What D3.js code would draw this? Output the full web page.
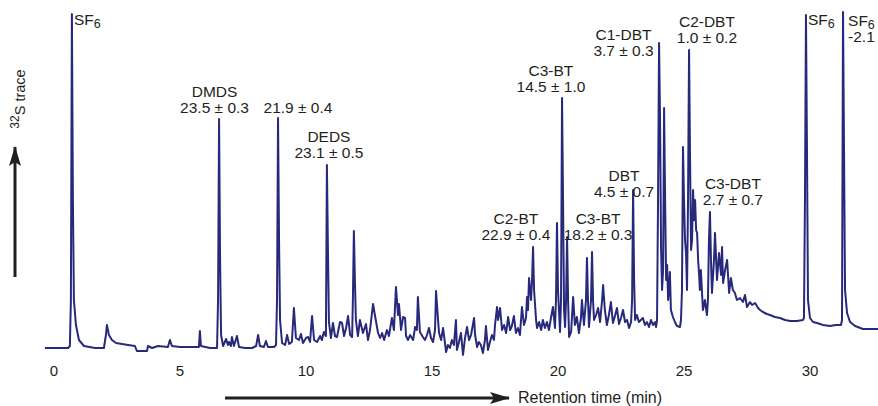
<!DOCTYPE html>
<html>
<head>
<meta charset="utf-8">
<script src="https://cdn.jsdelivr.net/npm/d3@7"></script>
<style>
  html, body { margin: 0; padding: 0; background: #fff; }
  svg { display: block; }
  text { font-family: "Liberation Sans", Arial, Helvetica, sans-serif; fill: #231f20; }
</style>
</head>
<body>
<svg id="chart" width="878" height="406"></svg>
<script>
// 32S trace of the GC-MC-ICPMS run: retention time (min) and signal (arbitrary units)
const retentionTime = [
  -0.34, 0.58, 0.65, 0.69, 0.73, 0.77, 0.81, 0.89, 1.01, 1.21, 1.65, 2.00, 2.08, 2.12, 2.20, 2.32, 2.48, 2.72, 2.96, 3.23,
  3.31, 3.71, 3.75, 3.91, 4.15, 4.54, 4.62, 4.70, 5.02, 5.42, 5.77, 5.81, 5.85, 6.21, 6.49, 6.53, 6.57, 6.61, 6.65, 6.73,
  6.85, 6.92, 6.96, 7.04, 7.08, 7.16, 7.28, 7.36, 7.60, 7.88, 8.04, 8.12, 8.19, 8.35, 8.43, 8.51, 8.75, 8.83, 8.87, 8.91,
  8.95, 8.99, 9.07, 9.19, 9.27, 9.35, 9.46, 9.54, 9.62, 9.74, 9.82, 9.90, 10.02, 10.10, 10.18, 10.26, 10.34, 10.46, 10.58, 10.65,
  10.73, 10.81, 10.85, 10.89, 10.93, 11.01, 11.09, 11.17, 11.25, 11.37, 11.45, 11.53, 11.61, 11.69, 11.77, 11.85, 11.88, 11.92, 11.96, 12.00,
  12.08, 12.16, 12.28, 12.40, 12.48, 12.56, 12.68, 12.76, 12.88, 12.96, 13.04, 13.12, 13.23, 13.31, 13.43, 13.51, 13.59, 13.67, 13.71, 13.79,
  13.87, 13.95, 13.99, 14.07, 14.15, 14.27, 14.35, 14.42, 14.46, 14.54, 14.66, 14.74, 14.82, 14.90, 14.98, 15.06, 15.14, 15.18, 15.26, 15.30,
  15.38, 15.46, 15.58, 15.65, 15.73, 15.81, 15.89, 15.97, 16.01, 16.09, 16.17, 16.25, 16.33, 16.41, 16.49, 16.57, 16.69, 16.73, 16.81, 16.88,
  16.96, 17.04, 17.12, 17.16, 17.24, 17.32, 17.40, 17.48, 17.52, 17.60, 17.64, 17.72, 17.80, 17.88, 17.96, 18.04, 18.12, 18.19, 18.27, 18.35,
  18.43, 18.51, 18.59, 18.67, 18.75, 18.79, 18.83, 18.87, 18.95, 18.99, 19.03, 19.07, 19.15, 19.19, 19.27, 19.35, 19.42, 19.50, 19.58, 19.66,
  19.74, 19.82, 19.90, 19.94, 19.98, 20.02, 20.10, 20.14, 20.18, 20.22, 20.26, 20.30, 20.34, 20.38, 20.42, 20.46, 20.54, 20.62, 20.69, 20.77,
  20.85, 20.93, 20.97, 21.05, 21.13, 21.17, 21.21, 21.25, 21.33, 21.37, 21.41, 21.45, 21.53, 21.61, 21.69, 21.77, 21.81, 21.88, 21.96, 22.04,
  22.12, 22.20, 22.28, 22.36, 22.44, 22.52, 22.60, 22.68, 22.76, 22.84, 22.92, 22.96, 23.00, 23.04, 23.08, 23.15, 23.23, 23.31, 23.39, 23.47,
  23.55, 23.63, 23.71, 23.79, 23.87, 23.91, 23.95, 23.99, 24.03, 24.07, 24.11, 24.15, 24.19, 24.23, 24.27, 24.31, 24.35, 24.39, 24.42, 24.46,
  24.50, 24.58, 24.66, 24.74, 24.86, 24.90, 24.94, 24.98, 25.02, 25.06, 25.10, 25.14, 25.18, 25.22, 25.26, 25.30, 25.34, 25.38, 25.42, 25.46,
  25.50, 25.54, 25.58, 25.62, 25.65, 25.69, 25.77, 25.85, 25.93, 25.97, 26.01, 26.05, 26.09, 26.13, 26.21, 26.25, 26.33, 26.41, 26.49, 26.53,
  26.57, 26.65, 26.73, 26.81, 26.88, 26.96, 27.04, 27.12, 27.24, 27.36, 27.44, 27.52, 27.64, 27.72, 27.84, 27.96, 28.04, 28.15, 28.31, 28.43,
  28.63, 28.83, 29.03, 29.23, 29.50, 29.74, 29.78, 29.82, 29.86, 29.90, 29.94, 30.02, 30.14, 30.30, 30.54, 30.81, 31.05, 31.25, 31.29, 31.33,
  31.37, 31.41, 31.49, 31.61, 31.81, 32.12, 32.40, 32.72
];
const intensity = [
  0, 0, 0.6, 14.4, 100.2, 44.4, 14.4, 6.9, 2.4, 0.6, 0, 0, 3.9, 6.9, 3.9, 2.4, 1.5, 1.2, 0.9, 0.6,
  -0.9, -0.9, 0.6, 0, 0.6, 0.3, 2.4, 0.6, 0.3, 0.3, 0.3, 5.1, 0.6, 0, 0, 14.4, 68.7, 26.4, 3.9, 0.6,
  2.7, 0.9, 1.8, 0.6, 3.3, 0.6, 3.6, 0.3, 0, 0, 0.6, 3.9, 0.6, 0.3, 2.1, 0.3, 0.3, 0.9, 14.4, 69.0,
  32.4, 8.4, 1.5, 0.9, 3.9, 1.2, 1.8, 12.0, 3.0, 2.4, 4.2, 1.5, 3.0, 3.3, 1.8, 9.6, 2.4, 1.8, 3.6, 2.4,
  4.8, 3.6, 54.9, 29.4, 7.8, 3.0, 7.5, 3.6, 3.3, 7.8, 7.5, 3.6, 6.0, 9.6, 3.9, 3.3, 14.4, 35.1, 20.4, 8.4,
  3.6, 8.4, 4.5, 7.2, 2.4, 5.4, 13.2, 9.6, 4.5, 3.0, 4.5, 2.4, 5.4, 3.6, 9.0, 5.4, 18.3, 9.9, 13.2, 5.4,
  9.3, 9.0, 3.6, 2.4, 3.9, 2.4, 6.3, 5.4, 15.3, 4.8, 3.3, 2.4, 3.9, 6.0, 3.0, 1.8, 5.4, 17.1, 8.4, 4.5,
  2.4, 6.0, -1.2, 0.9, 0, 2.4, 0.9, 8.4, -0.6, 1.8, 4.5, -2.1, 3.0, 6.3, 2.4, 3.9, 9.0, 3.9, 0.3, 1.8,
  0.9, -1.5, 2.4, 6.6, -0.6, 1.8, 3.9, 2.4, 6.9, 12.3, 8.4, 12.0, 5.4, 6.9, 4.5, 9.3, 5.4, 6.6, 9.6, 4.5,
  6.0, 3.9, 12.3, 6.9, 9.0, 15.3, 11.4, 21.0, 14.4, 20.4, 30.3, 17.4, 8.4, 6.0, 7.8, 5.4, 8.4, 6.0, 7.8, 5.4,
  9.0, 12.3, 6.0, 14.4, 37.5, 17.4, 4.8, 14.4, 75.0, 44.4, 11.4, 6.3, 14.4, 33.3, 14.4, 3.3, 4.8, 15.3, 6.9, 9.3,
  4.5, 9.0, 14.4, 6.9, 14.4, 27.0, 14.4, 6.3, 14.4, 28.8, 14.4, 8.4, 9.9, 12.0, 7.8, 14.4, 18.9, 11.4, 6.9, 9.9,
  13.8, 7.5, 9.6, 12.0, 7.2, 9.0, 11.4, 7.8, 8.4, 6.0, 7.8, 14.4, 47.4, 20.4, 8.4, 9.9, 7.8, 8.4, 9.0, 6.9,
  7.8, 6.3, 8.4, 6.9, 7.8, 6.3, 8.4, 44.4, 91.5, 68.4, 29.4, 17.4, 23.4, 72.0, 44.4, 20.4, 24.9, 14.4, 17.4, 22.8,
  11.4, 9.3, 7.8, 6.6, 6.3, 8.4, 17.4, 60.3, 44.4, 32.4, 28.5, 17.4, 44.4, 89.4, 56.4, 29.4, 32.4, 47.4, 38.4, 44.4,
  35.4, 34.5, 26.4, 21.9, 17.4, 23.4, 11.4, 14.4, 9.9, 14.4, 32.4, 40.8, 26.4, 16.5, 26.4, 34.5, 20.4, 28.5, 21.9, 30.3,
  19.5, 23.4, 26.4, 16.5, 21.0, 17.4, 16.5, 14.4, 15.0, 13.8, 15.9, 12.3, 13.8, 12.9, 13.5, 12.0, 11.4, 10.8, 10.2, 9.9,
  9.3, 9.0, 8.4, 8.1, 8.1, 8.4, 9.0, 44.4, 99.9, 59.4, 14.4, 9.0, 7.8, 7.5, 6.9, 6.6, 6.9, 6.9, 8.4, 100.8,
  59.4, 17.4, 10.5, 7.8, 6.6, 5.7, 5.7, 5.7
];

// x-axis ticks (min)
const timeTicks = [0, 5, 10, 15, 20, 25, 30];

// Peak annotations: compound name ("_" marks a subscript digit) and δ34S value (‰)
const peakNames  = ["SF_6", "DMDS", "", "DEDS", "C2-BT", "C3-BT", "C3-BT", "DBT", "C1-DBT", "C2-DBT", "C3-DBT", "SF_6", "SF_6"];
const peakValues = ["", "23.5 ± 0.3", "21.9 ± 0.4", "23.1 ± 0.5", "22.9 ± 0.4", "14.5 ± 1.0", "18.2 ± 0.3",
                    "4.5 ± 0.7", "3.7 ± 0.3", "1.0 ± 0.2", "2.7 ± 0.7", "", "-2.1"];

// Label anchors in chart units (time, signal) of the last text line's baseline
const labelTime  = [0.81, 6.39, 9.70, 10.93, 18.35, 19.74, 21.61, 22.64, 22.62, 25.93, 26.96, 29.94, 31.53];
const labelLevel = [96.9, 70.5, 70.5, 57.0, 32.4, 76.8, 32.4, 45.3, 87.6, 91.5, 42.9, 96.9, 91.8];
const labelAlign = ["start", "middle", "middle", "middle", "middle", "middle", "middle", "middle", "middle", "middle", "middle", "start", "start"];

const svg = d3.select("#chart");
const ink = "#231f20";
const traceColor = "#27297a";

const x = d3.scaleLinear().domain([0, 30]).range([53.5, 809.5]);
const y = d3.scaleLinear().domain([0, 100]).range([348, 14.67]);

// arrowhead marker for the axis-title arrows
const defs = svg.append("defs");
defs.append("marker")
  .attr("id", "arrow")
  .attr("viewBox", "0 0 20 12")
  .attr("refX", 19).attr("refY", 6)
  .attr("markerWidth", 20).attr("markerHeight", 12)
  .attr("markerUnits", "userSpaceOnUse")
  .attr("orient", "auto")
  .append("path")
  .attr("d", "M0,0 L20,6 L0,12 L4,6 Z")
  .attr("fill", ink);

// trace
const points = retentionTime.map((t, i) => [t, intensity[i]]);
svg.append("path")
  .datum(points)
  .attr("fill", "none")
  .attr("stroke", traceColor)
  .attr("stroke-width", 2)
  .attr("stroke-linejoin", "round")
  .attr("d", d3.line().x(d => x(d[0])).y(d => y(d[1])));

// x axis (labels only)
const xAxis = svg.append("g")
  .attr("transform", "translate(0,355)")
  .call(d3.axisBottom(x).tickValues(timeTicks).tickSize(0).tickPadding(10).tickFormat(d3.format("d")));
xAxis.select(".domain").remove();
xAxis.selectAll("text")
  .style("font-family", "'Liberation Sans', Arial, sans-serif")
  .style("font-size", "15px")
  .attr("fill", ink);

// x-axis title with arrow
svg.append("line")
  .attr("x1", 225).attr("y1", 398).attr("x2", 509).attr("y2", 398)
  .attr("stroke", ink).attr("stroke-width", 3)
  .attr("marker-end", "url(#arrow)");
svg.append("text")
  .attr("x", 518).attr("y", 403)
  .style("font-size", "16px")
  .text("Retention time (min)");

// y-axis title with arrow
svg.append("line")
  .attr("x1", 15).attr("y1", 277).attr("x2", 15).attr("y2", 147)
  .attr("stroke", ink).attr("stroke-width", 3)
  .attr("marker-end", "url(#arrow)");
const yTitle = svg.append("text")
  .attr("transform", "translate(25,99) rotate(-90)")
  .attr("text-anchor", "middle")
  .style("font-size", "14.5px");
yTitle.append("tspan").attr("font-size", "12px").attr("dy", "-6").text("32");
yTitle.append("tspan").attr("dy", "6").text("S trace");

// peak labels
const lineGap = 15.5;
peakNames.forEach((name, i) => {
  const ax = x(labelTime[i]);
  const ay = y(labelLevel[i]);
  const value = peakValues[i];
  const g = svg.append("g").style("font-size", "15.5px");
  const nameY = value ? ay - lineGap - 1 : ay;
  if (name) {
    const t = g.append("text").attr("x", ax).attr("y", nameY).attr("text-anchor", labelAlign[i]);
    const parts = name.split("_");
    t.append("tspan").text(parts[0]);
    if (parts[1]) t.append("tspan").attr("font-size", "12.5px").attr("dy", "3").text(parts[1]);
  }
  if (value) {
    g.append("text").attr("x", ax).attr("y", ay).attr("text-anchor", labelAlign[i]).text(value);
  }
});
</script>
</body>
</html>
